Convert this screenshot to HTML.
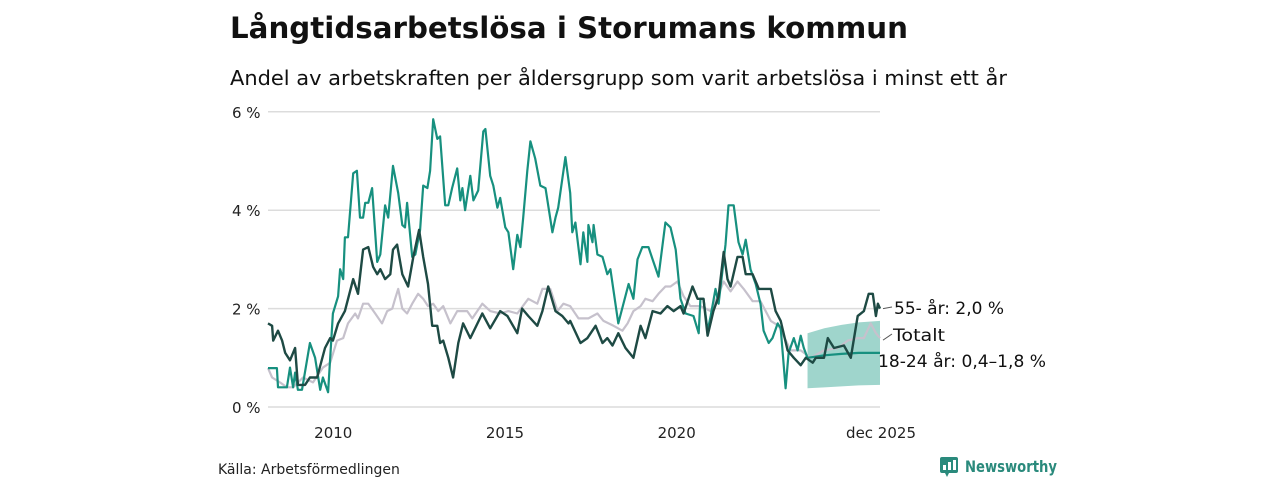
<!DOCTYPE html>
<html><head><meta charset="utf-8"><style>
body{margin:0;background:#fff;width:1280px;height:480px;overflow:hidden;font-family:"DejaVu Sans","Liberation Sans",sans-serif}
svg text{font-family:"DejaVu Sans","Liberation Sans",sans-serif}
</style></head><body>
<svg id="c" width="1280" height="480">
<text x="230" y="38" font-size="29" font-weight="bold" fill="#111" textLength="678" lengthAdjust="spacingAndGlyphs">Långtidsarbetslösa i Storumans kommun</text>
<text x="230" y="85" font-size="20" fill="#111" textLength="777" lengthAdjust="spacingAndGlyphs">Andel av arbetskraften per åldersgrupp som varit arbetslösa i minst ett år</text>
<g id="grid"></g><g id="marks"></g><g id="labels"></g>
<text x="218" y="474" font-size="14" fill="#222">Källa: Arbetsförmedlingen</text>
<g>
<rect x="940" y="457" width="18" height="16" rx="2" fill="#2a8a7c"/>
<polygon points="945,473 949,473 947,477" fill="#2a8a7c"/>
<rect x="943" y="465" width="3" height="5" fill="#fff"/><rect x="948" y="462" width="3" height="8" fill="#fff"/><rect x="953" y="460" width="3" height="10" fill="#fff"/>
<text x="965" y="472" font-size="16" font-weight="bold" fill="#2a8a7c" textLength="92" lengthAdjust="spacingAndGlyphs">Newsworthy</text>
</g>
</svg>
<script>
const yTicks=[0,2,4,6];
const xTicks=[2010,2015,2020];
const youthDates=[2008.10,2008.36,2008.39,2008.65,2008.74,2008.83,2008.89,2008.97,2009.09,2009.32,2009.47,2009.62,2009.70,2009.85,2009.99,2010.14,2010.20,2010.29,2010.34,2010.43,2010.58,2010.69,2010.78,2010.87,2010.93,2011.02,2011.13,2011.28,2011.37,2011.51,2011.60,2011.74,2011.89,2012.01,2012.09,2012.15,2012.30,2012.39,2012.53,2012.62,2012.74,2012.82,2012.91,2013.03,2013.11,2013.26,2013.35,2013.46,2013.61,2013.70,2013.76,2013.84,2013.99,2014.08,2014.22,2014.37,2014.43,2014.57,2014.66,2014.78,2014.86,2015.01,2015.10,2015.24,2015.36,2015.45,2015.53,2015.65,2015.74,2015.88,2016.03,2016.18,2016.38,2016.47,2016.55,2016.76,2016.90,2016.96,2017.05,2017.20,2017.28,2017.40,2017.43,2017.55,2017.58,2017.69,2017.84,2017.98,2018.07,2018.30,2018.60,2018.74,2018.86,2019.00,2019.18,2019.30,2019.47,2019.67,2019.82,2019.97,2020.11,2020.26,2020.49,2020.64,2020.69,2020.78,2020.90,2020.99,2021.13,2021.22,2021.42,2021.51,2021.66,2021.80,2021.92,2022.01,2022.15,2022.30,2022.44,2022.53,2022.68,2022.79,2022.94,2023.03,2023.17,2023.26,2023.41,2023.52,2023.61,2023.70,2023.81];
const youthValues=[.79,.79,.4,.4,.8,.4,.7,.35,.35,1.3,1.0,.35,.6,.3,1.9,2.25,2.8,2.6,3.45,3.45,4.75,4.8,3.85,3.85,4.15,4.15,4.45,2.95,3.1,4.1,3.85,4.9,4.35,3.7,3.65,4.15,3.05,3.1,3.6,4.5,4.45,4.8,5.85,5.45,5.5,4.1,4.1,4.45,4.85,4.2,4.45,4.0,4.7,4.2,4.4,5.6,5.65,4.7,4.5,4.05,4.25,3.65,3.55,2.8,3.5,3.25,3.85,4.8,5.4,5.05,4.5,4.45,3.55,3.85,4.05,5.08,4.35,3.55,3.75,2.9,3.55,2.95,3.7,3.35,3.7,3.1,3.05,2.7,2.8,1.7,2.5,2.2,3.0,3.25,3.25,3.0,2.65,3.75,3.65,3.2,2.2,1.9,1.85,1.5,2.2,2.2,1.55,1.85,2.4,2.1,3.3,4.1,4.1,3.35,3.1,3.4,2.8,2.5,2.1,1.55,1.3,1.4,1.7,1.6,.38,1.1,1.4,1.15,1.45,1.2,1.0];
const trendDates=[2023.81,2024.3,2024.8,2025.3,2025.92];
const trendValues=[1.0,1.05,1.08,1.1,1.1];
const bandLow=[0.38,0.4,0.42,0.44,0.45];
const bandHigh=[1.5,1.6,1.67,1.72,1.75];
const oldDates=[2008.10,2008.22,2008.25,2008.39,2008.51,2008.60,2008.74,2008.89,2008.97,2009.18,2009.32,2009.53,2009.76,2009.91,2009.99,2010.14,2010.34,2010.58,2010.72,2010.87,2011.02,2011.16,2011.28,2011.37,2011.51,2011.66,2011.74,2011.86,2012.01,2012.18,2012.33,2012.50,2012.62,2012.76,2012.88,2013.03,2013.11,2013.20,2013.35,2013.49,2013.64,2013.78,2013.99,2014.34,2014.57,2014.86,2015.07,2015.36,2015.50,2015.68,2015.94,2016.09,2016.26,2016.47,2016.67,2016.85,2016.90,2017.20,2017.40,2017.64,2017.84,2017.98,2018.13,2018.30,2018.51,2018.74,2018.95,2019.09,2019.30,2019.53,2019.73,2019.91,2020.11,2020.20,2020.46,2020.61,2020.78,2020.90,2021.07,2021.22,2021.37,2021.48,2021.57,2021.77,2021.92,2022.01,2022.21,2022.39,2022.74,2022.88,2023.03,2023.23,2023.41,2023.61,2023.76,2023.96,2024.05,2024.29,2024.40,2024.58,2024.87,2025.07,2025.27,2025.45,2025.59,2025.71,2025.80,2025.86,2025.92];
const oldValues=[1.7,1.65,1.35,1.55,1.35,1.1,.95,1.2,.45,.45,.6,.6,1.2,1.4,1.35,1.7,1.95,2.6,2.3,3.2,3.25,2.85,2.7,2.8,2.6,2.7,3.2,3.3,2.7,2.45,3.05,3.6,3.05,2.5,1.65,1.65,1.3,1.35,1.0,.6,1.3,1.7,1.4,1.9,1.6,1.95,1.85,1.5,2.0,1.85,1.65,1.95,2.45,1.95,1.85,1.7,1.75,1.3,1.4,1.65,1.3,1.4,1.25,1.5,1.2,1.0,1.65,1.4,1.95,1.9,2.05,1.95,2.05,1.9,2.45,2.2,2.2,1.45,1.95,2.25,3.15,2.6,2.45,3.05,3.05,2.7,2.7,2.4,2.4,1.95,1.75,1.15,1.0,.85,1.0,.9,1.0,1.0,1.4,1.2,1.25,1.0,1.85,1.95,2.3,2.3,1.85,2.1,2.0];
const totalDates=[2008.10,2008.22,2008.45,2008.65,2008.83,2009.12,2009.41,2009.70,2009.91,2010.11,2010.29,2010.43,2010.64,2010.72,2010.87,2011.02,2011.22,2011.42,2011.57,2011.72,2011.80,2011.89,2012.01,2012.15,2012.30,2012.47,2012.62,2012.76,2012.91,2013.06,2013.20,2013.41,2013.61,2013.90,2014.05,2014.34,2014.57,2014.86,2015.10,2015.36,2015.68,2015.94,2016.09,2016.32,2016.53,2016.70,2016.90,2017.14,2017.43,2017.69,2017.87,2018.16,2018.42,2018.57,2018.74,2018.95,2019.09,2019.30,2019.47,2019.67,2019.82,2020.02,2020.20,2020.40,2020.69,2020.99,2021.19,2021.37,2021.57,2021.77,2021.95,2022.21,2022.44,2022.74,2022.97,2023.32,2023.61,2023.90,2024.29,2024.69,2024.98,2025.27,2025.45,2025.65,2025.80,2025.92];
const totalValues=[.79,.6,.5,.4,.4,.6,.5,.8,.9,1.35,1.4,1.7,1.9,1.8,2.1,2.1,1.9,1.7,1.95,2.0,2.2,2.4,2.0,1.9,2.1,2.3,2.2,2.05,2.1,1.95,2.05,1.7,1.95,1.95,1.8,2.1,1.95,1.9,1.95,1.9,2.2,2.1,2.4,2.4,1.95,2.1,2.05,1.8,1.8,1.9,1.75,1.65,1.55,1.7,1.95,2.05,2.2,2.15,2.3,2.45,2.45,2.55,2.25,2.05,2.05,1.95,2.25,2.55,2.35,2.55,2.4,2.15,2.15,1.75,1.65,1.15,1.15,1.0,1.15,1.2,1.35,1.4,1.4,1.7,1.5,1.4];

const X0=268,X1=880,D0=2008.1,D1=2025.92;
const x=d=>X0+(d-D0)/(D1-D0)*(X1-X0);
const y=v=>407-v*49.2;
const NS='http://www.w3.org/2000/svg';
function mk(tag,attrs,parent){const e=document.createElementNS(NS,tag);for(const k in attrs)e.setAttribute(k,attrs[k]);parent.appendChild(e);return e;}
const grid=document.getElementById('grid'),marks=document.getElementById('marks'),labels=document.getElementById('labels');
yTicks.forEach(t=>{
  const l=mk('line',{x1:X0,x2:X1,y1:y(t),y2:y(t),stroke:'#dcdcdc','stroke-width':1.5},grid);
  
  
  const tx=mk('text',{x:232,y:y(t)+6,'font-size':15,fill:'#222'},grid);
  tx.textContent=t+' %';
  
  
});
xTicks.forEach(t=>{
  const tx=mk('text',{x:x(t),y:438,'font-size':15,fill:'#222','text-anchor':'middle'},grid);
  tx.textContent=t;
  
  
});
const endTx=mk('text',{x:x(D1)+36,y:438,'font-size':15,fill:'#222','text-anchor':'end'},grid);
endTx.textContent='dec 2025';



function pathOf(ds,vs){return ds.map((d,i)=>(i?'L':'M')+x(d).toFixed(1)+','+y(vs[i]).toFixed(1)).join('');}
let bp=trendDates.map((d,i)=>(i?'L':'M')+x(d)+','+y(bandHigh[i])).join('');
for(let i=trendDates.length-1;i>=0;i--)bp+='L'+x(trendDates[i])+','+y(bandLow[i]);
const band=mk('path',{d:bp+'Z',fill:'#9fd5cc'},marks);


const tl=mk('path',{d:pathOf(totalDates,totalValues),fill:'none',stroke:'#c6c1cc','stroke-width':2.2,'stroke-linejoin':'round'},marks);


const yl=mk('path',{d:pathOf(youthDates,youthValues),fill:'none',stroke:'#17907f','stroke-width':2.2,'stroke-linejoin':'round'},marks);


const tr=mk('path',{d:pathOf(trendDates,trendValues),fill:'none',stroke:'#17907f','stroke-width':2.2},marks);


const ol=mk('path',{d:pathOf(oldDates,oldValues),fill:'none',stroke:'#1e4a44','stroke-width':2.4,'stroke-linejoin':'round'},marks);



const lx=x(D1);
const oy=y(oldValues[oldValues.length-1]),ty=y(totalValues[totalValues.length-1]);
const l1=mk('line',{x1:lx+3,y1:oy,x2:lx+12,y2:308-1,stroke:'#555','stroke-width':1},labels);


const l2=mk('line',{x1:lx+3,y1:ty+2,x2:lx+12,y2:335-1,stroke:'#555','stroke-width':1},labels);


const lab=[['55- år: 2,0 %',894,314,'label-55',110],['Totalt',893,341,'label-total',52],['18-24 år: 0,4–1,8 %',878,367,'label-youth',168]];
lab.forEach(a=>{const t=mk('text',{x:a[1],y:a[2],'font-size':17,fill:'#111',textLength:a[4],lengthAdjust:'spacingAndGlyphs'},labels);t.textContent=a[0];

});
</script>
</body></html>
